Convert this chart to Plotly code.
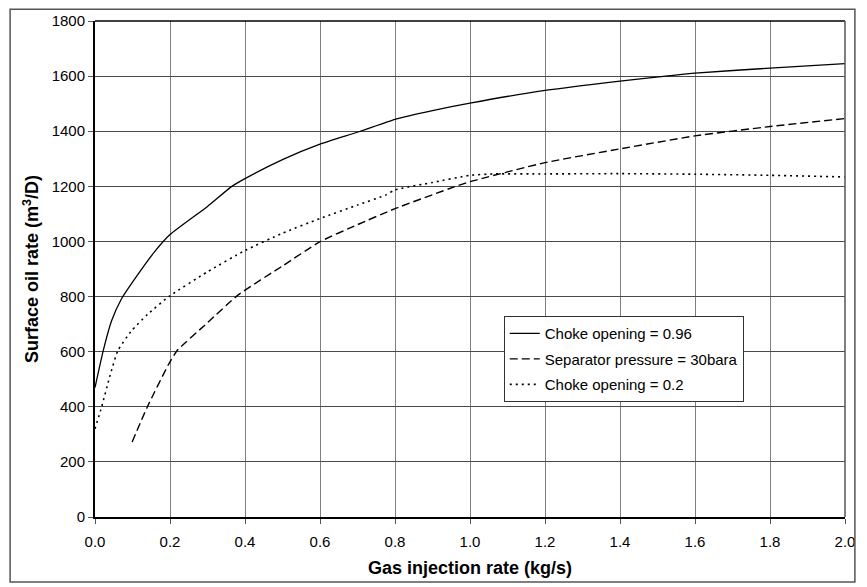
import plotly.graph_objects as go

# Choke opening = 0.96
x_choke096 = [0.0, 0.022, 0.044, 0.07, 0.1, 0.158, 0.2, 0.3, 0.364, 0.4, 0.5, 0.6, 0.706,
              0.8, 0.9, 1.0, 1.2, 1.4, 1.522, 1.6, 1.8, 2.0]
y_choke096 = [470, 604, 711, 790, 852, 961, 1025, 1127, 1199, 1228, 1297, 1353, 1399,
              1443, 1475, 1502, 1548, 1582, 1600, 1611, 1629, 1645]

# Separator pressure = 30bara
x_sep30 = [0.099, 0.14, 0.197, 0.219, 0.3, 0.382, 0.5, 0.6, 0.7, 0.8, 0.96, 1.0,
           1.2, 1.4, 1.6, 1.8, 2.0]
y_sep30 = [272, 401, 556, 604, 705, 806, 911, 999, 1061, 1119, 1199, 1217,
           1286, 1336, 1383, 1417, 1446]

# Choke opening = 0.2
x_choke02 = [0.0, 0.018, 0.039, 0.061, 0.097, 0.14, 0.197, 0.3, 0.4, 0.5, 0.6, 0.7,
             0.776, 0.8, 0.9, 1.0, 1.066, 1.2, 1.4, 1.6, 1.8, 2.0]
y_choke02 = [320, 401, 508, 604, 675, 735, 800, 890, 967, 1030, 1083, 1132,
             1169, 1187, 1214, 1240, 1245, 1245, 1246, 1244, 1240, 1234]

x_ticks = [0.0, 0.2, 0.4, 0.6, 0.8, 1.0, 1.2, 1.4, 1.6, 1.8, 2.0]
y_ticks = [0, 200, 400, 600, 800, 1000, 1200, 1400, 1600, 1800]

FONT = "Liberation Sans, Arial, sans-serif"

fig = go.Figure()
fig.add_trace(go.Scatter(x=x_choke096, y=y_choke096, mode="lines",
                         name="Choke opening = 0.96", legendgroup="a",
                         line=dict(color="black", width=1.3, shape="spline", smoothing=0.5)))
fig.add_trace(go.Scatter(x=x_sep30, y=y_sep30, mode="lines",
                         name="Separator pressure = 30bara", legendgroup="b",
                         line=dict(color="black", width=1.4, dash="8px,4px",
                                   shape="spline", smoothing=0.5)))
fig.add_trace(go.Scatter(x=x_choke02, y=y_choke02, mode="lines",
                         name="Choke opening = 0.2", legendgroup="c",
                         line=dict(color="black", width=1.6, dash="2px,4px",
                                   shape="spline", smoothing=0.5)))

fig.update_layout(
    width=867, height=587,
    margin=dict(l=95, r=12, t=15, b=68),
    paper_bgcolor="white", plot_bgcolor="white",
    font=dict(family=FONT, size=15, color="black"),
    showlegend=True,
    legend=dict(x=0.545, y=0.405, xanchor="left", yanchor="top",
                bgcolor="white", bordercolor="#333333", borderwidth=1,
                font=dict(size=15), tracegroupgap=3),
    xaxis=dict(range=[0, 2.0], tickvals=x_ticks, tickformat=".1f",
               showgrid=True, gridcolor="#808080", gridwidth=1,
               showline=True, linecolor="black", linewidth=2,
               ticks="outside", ticklen=5, tickcolor="#555555",
               ticklabelstandoff=5,
               zeroline=False,
               title=dict(text="<b>Gas injection rate (kg/s)</b>",
                          font=dict(size=18), standoff=12)),
    yaxis=dict(range=[0, 1800], tickvals=y_ticks,
               showgrid=True, gridcolor="#4a4a4a", gridwidth=1,
               showline=True, linecolor="black", linewidth=2,
               ticks="outside", ticklen=5, tickcolor="#555555",
               zeroline=False,
               title=dict(text="<b>Surface oil rate (m<sup>3</sup>/D)</b>",
                          font=dict(size=18), standoff=8)),
    shapes=[
        dict(type="line", xref="paper", yref="paper", x0=0, x1=1, y0=1, y1=1,
             line=dict(color="black", width=1.5)),
        dict(type="line", xref="paper", yref="paper", x0=1, x1=1, y0=0, y1=1,
             line=dict(color="#555555", width=1.5)),
        dict(type="rect", xref="paper", yref="paper",
             x0=-0.1132, x1=1.0132, y0=-0.131, y1=1.0238,
             line=dict(color="#555555", width=1.5)),
    ],
)

fig.write_html("out.html")
